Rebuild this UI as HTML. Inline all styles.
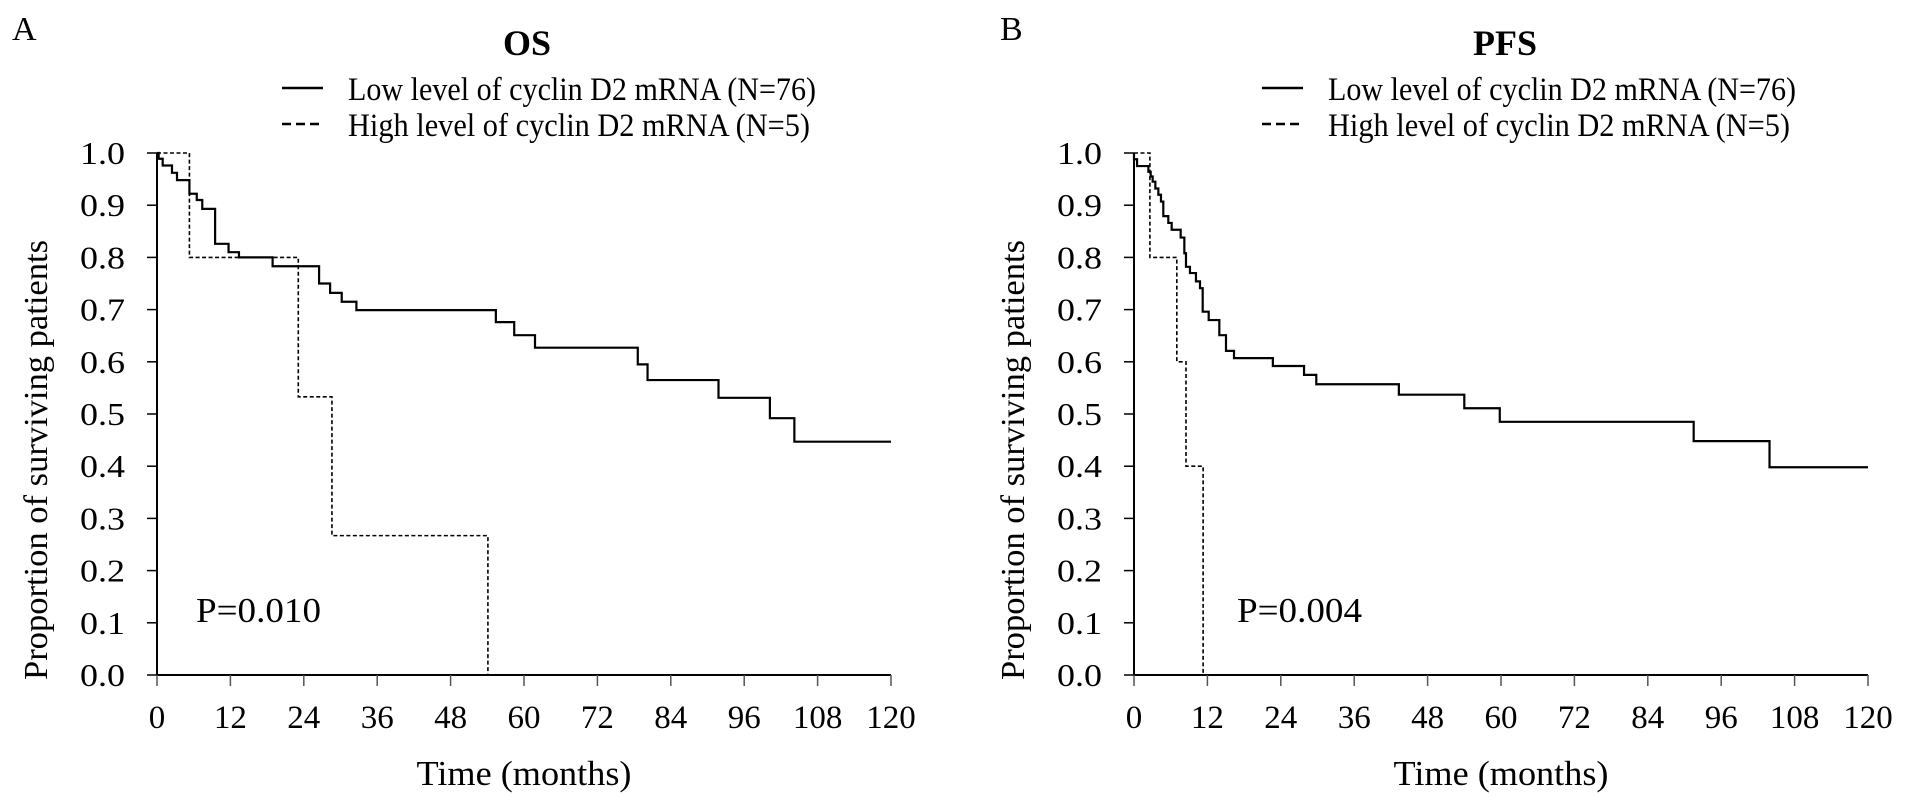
<!DOCTYPE html>
<html><head><meta charset="utf-8"><style>
html,body{margin:0;padding:0;background:#fff;}
svg{display:block;font-family:"Liberation Serif",serif;}
</style></head><body>
<svg id="fig" width="1913" height="796" viewBox="0 0 1913 796" xmlns="http://www.w3.org/2000/svg"></svg>
<script>
const xTicks = [0,12,24,36,48,60,72,84,96,108,120];
const yTicks = [0.0,0.1,0.2,0.3,0.4,0.5,0.6,0.7,0.8,0.9,1.0];
const osLowT = [0,0.27,0.93,2.45,3.27,5.3,6.5,7.4,9.5,11.7,13.4,18.9,26.5,28.3,30.2,32.6,55.4,58.4,61.8,78.6,80.2,91.8,100.2,104.2];
const osLowS = [1,0.989,0.976,0.962,0.948,0.922,0.91,0.893,0.826,0.81,0.80,0.783,0.75,0.732,0.715,0.699,0.676,0.651,0.627,0.595,0.565,0.531,0.492,0.447];
const osLowEnd = 120;
const osHighT = [0,5.3,23.1,28.6,54.1];
const osHighS = [1,0.8,0.533,0.267,0];
const osHighEnd = 54.1;
const pfsLowT = [0,0,0.5,2.35,2.73,3.05,3.49,3.98,4.41,4.79,5.61,6.16,7.63,8.23,8.5,9.15,10.13,10.79,11.23,12.21,13.95,15.04,16.35,22.7,27.8,29.8,43.3,54.0,59.8,91.5,103.9];
const pfsLowS = [1,0.988,0.975,0.964,0.955,0.945,0.932,0.92,0.907,0.879,0.866,0.853,0.838,0.808,0.782,0.77,0.754,0.741,0.696,0.68,0.651,0.621,0.607,0.592,0.575,0.557,0.537,0.511,0.485,0.448,0.398];
const pfsLowEnd = 120;
const pfsHighT = [0,2.6,7.0,8.5,11.3];
const pfsHighS = [1,0.8,0.6,0.4,0];
const pfsHighEnd = 11.3;

const NS='http://www.w3.org/2000/svg';
const svg=document.getElementById('fig');
function mk(tag,attrs,parent){const e=document.createElementNS(NS,tag);for(const k in attrs)e.setAttribute(k,attrs[k]);(parent||svg).appendChild(e);return e;}
function txt(s,attrs,parent){const e=mk('text',attrs,parent);e.textContent=s;return e;}

function panel(p){
  const g=mk('g',{});
  
  
  const x0=p.x0, x1=p.x0+734, y0=675, y1=153;
  const X=t=>x0+(t/120)*(x1-x0);
  const Y=v=>y0-v*(y0-y1);
  const ax=mk('path',{d:`M${x0} ${y1} V${y0} H${x1}`,fill:'none',stroke:'#000','stroke-width':2},g);
  
  
  yTicks.forEach(v=>{
    mk('line',{x1:x0-10,x2:x0,y1:Y(v),y2:Y(v),stroke:'#000','stroke-width':1.5},g);
    const t=txt(v.toFixed(1),{x:x0-32,y:Y(v)+11,'font-size':32,'text-anchor':'end',textLength:45,lengthAdjust:'spacingAndGlyphs'},g);
    
    
  });
  xTicks.forEach(v=>{
    mk('line',{x1:X(v),x2:X(v),y1:y0,y2:y0+11,stroke:'#555','stroke-width':1.5},g);
    const t=txt(String(v),{x:X(v),y:728,'font-size':33,'text-anchor':'middle'},g);
    
    
  });
  function curve(T,S,end,dash,name){
    let d=`M${X(T[0])} ${Y(S[0])}`;
    for(let i=1;i<T.length;i++){d+=` H${X(T[i])} V${Y(S[i])}`;}
    d+=` H${X(end)}`;
    const a={d:d,fill:'none',stroke:'#000','stroke-width':dash?1.6:2.2};
    if(dash)a['stroke-dasharray']='4 2.5';
    const e=mk('path',a,g);
    
    
  }
  curve(p.lowT,p.lowS,p.lowEnd,false,p.id+'-low-curve');
  curve(p.highT,p.highS,p.highEnd,true,p.id+'-high-curve');
  const L=txt(p.letter,{x:p.letterX,y:40,'font-size':34},g);
  
  
  const T=txt(p.title,{x:p.titleX,y:55,'font-size':36,'font-weight':'bold','text-anchor':'middle'},g);
  
  
  const l1=mk('line',{x1:p.legX,x2:p.legX+41,y1:88,y2:88,stroke:'#000','stroke-width':2.5},g);
  
  
  const t1=txt('Low level of cyclin D2 mRNA (N=76)',{x:p.legX+66,y:100,'font-size':33,textLength:468,lengthAdjust:'spacingAndGlyphs'},g);
  
  
  const l2=mk('line',{x1:p.legX,x2:p.legX+41,y1:124,y2:124,stroke:'#000','stroke-width':2.5,'stroke-dasharray':'9 5'},g);
  
  
  const t2=txt('High level of cyclin D2 mRNA (N=5)',{x:p.legX+66,y:136,'font-size':33,textLength:462,lengthAdjust:'spacingAndGlyphs'},g);
  
  
  const yt=txt('Proportion of surviving patients',{x:0,y:0,'font-size':34,'text-anchor':'middle',textLength:440,lengthAdjust:'spacingAndGlyphs',transform:`translate(${p.x0-110},${460}) rotate(-90)`},g);
  
  
  const xt=txt('Time (months)',{x:x0+367,y:785,'font-size':35,'text-anchor':'middle',textLength:215,lengthAdjust:'spacingAndGlyphs'},g);
  
  
  const pv=txt(p.pval,{x:p.pX,y:622,'font-size':35,textLength:125,lengthAdjust:'spacingAndGlyphs'},g);
  
  
}
panel({id:'os',x0:157,letter:'A',letterX:12,title:'OS',titleX:527,legX:282,pval:'P=0.010',pX:196,
  lowT:osLowT,lowS:osLowS,lowEnd:osLowEnd,highT:osHighT,highS:osHighS,highEnd:osHighEnd});
panel({id:'pfs',x0:1134,letter:'B',letterX:1000,title:'PFS',titleX:1505,legX:1262,pval:'P=0.004',pX:1237,
  lowT:pfsLowT,lowS:pfsLowS,lowEnd:pfsLowEnd,highT:pfsHighT,highS:pfsHighS,highEnd:pfsHighEnd});
</script>
</body></html>
